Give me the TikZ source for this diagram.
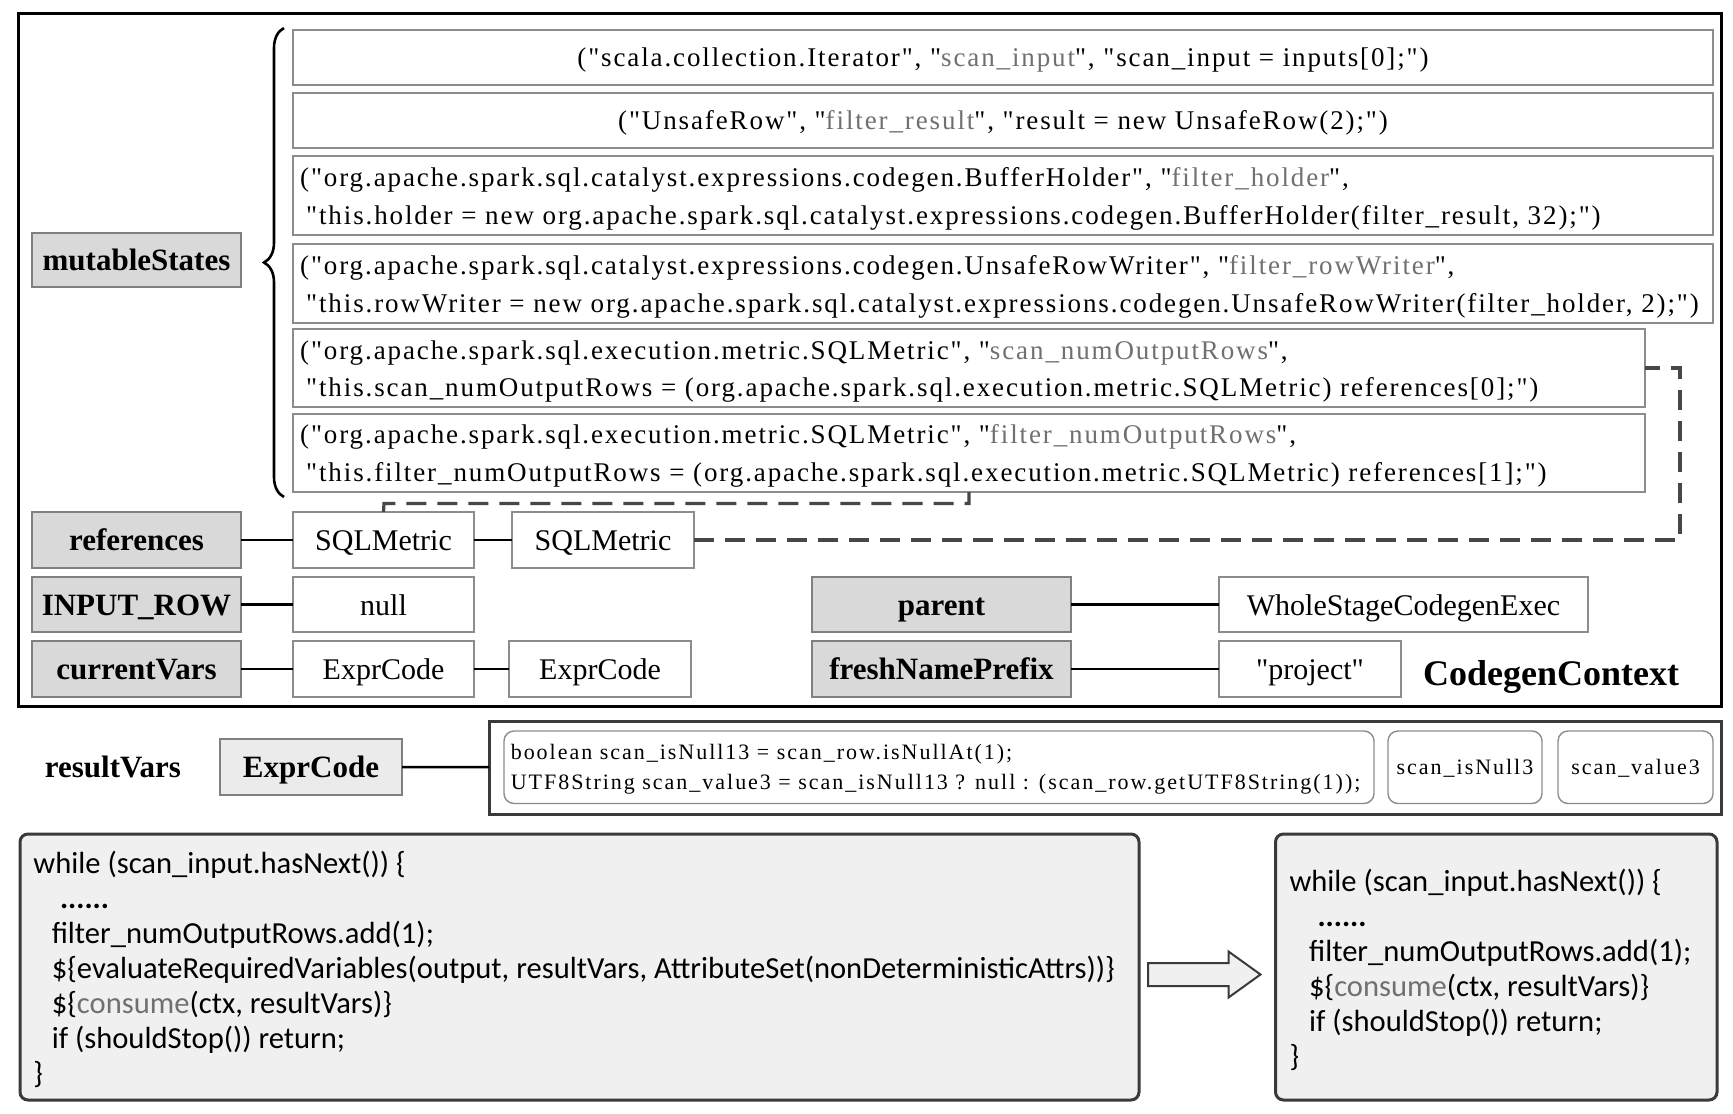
\documentclass[tikz,border=0pt]{standalone}
\usepackage{fontspec}
\setmainfont{Liberation Serif}
\newfontfamily\lblfont{Liberation Serif}
\newfontfamily\rowfont[LetterSpace=7]{Liberation Serif}
\newfontfamily\smallrowfont[LetterSpace=9]{Liberation Serif}
\newfontfamily\codefont{Carlito}
\usetikzlibrary{decorations.pathreplacing,calc}
\definecolor{hdrfill}{HTML}{D9D9D9}
\definecolor{hdrline}{HTML}{808080}
\definecolor{rowgray}{HTML}{8C8C8C}
\definecolor{txtgray}{HTML}{707070}
\definecolor{dashgray}{HTML}{474747}
\definecolor{resline}{HTML}{3A3A3A}
\definecolor{codefill}{HTML}{F0F0F0}
\definecolor{exfill}{HTML}{EBEBEB}
\newcommand\gtxt[1]{\textcolor{txtgray}{#1}}
\newcommand\rowsz{\rowfont\fontsize{13.5pt}{18.75pt}\selectfont}
\newcommand\smsz{\smallrowfont\fontsize{11pt}{15pt}\selectfont}
\newcommand\codesz{\codefont\fontsize{15.3pt}{17.5pt}\selectfont}
\newcommand\mybox[7]{\node[#2, anchor=north west, minimum width={(#5-(#3))*0.5pt}, minimum height={(#6-(#4))*0.5pt}] (#1) at (#3,#4) {#7};}
\tikzset{
  base/.style={inner sep=0pt, outer sep=0pt},
  oneline/.style={text height=13pt, text depth=2.4pt},
  rowbox/.style={base, draw=rowgray, line width=1pt, fill=white},
  hdr/.style={base, oneline, draw=hdrline, line width=1pt, fill=hdrfill, font=\lblfont\fontsize{15.5pt}{18pt}\selectfont\bfseries},
  valbox/.style={base, oneline, draw=rowgray, line width=1pt, fill=white, font=\lblfont\fontsize{15pt}{18pt}\selectfont},
  rowtxt/.style={inner sep=0pt, font=\rowsz, align=left},
  conn/.style={line width=1.3pt, draw=black},
  dashconn/.style={line width=1.6pt, draw=dashgray, dash pattern=on 10pt off 5.5pt},
  resbox/.style={base, draw=resline, line width=1.5pt},
  smallbox/.style={base, text height=9.5pt, text depth=2.5pt, draw=rowgray, line width=0.7pt, rounded corners=5pt, font=\smsz},
  codebox/.style={base, draw=resline, line width=1.5pt, fill=codefill, rounded corners=4pt},
  codetxt/.style={inner sep=0pt, font=\codesz, align=left},
  blockarrow/.style={draw=resline, line width=1pt, fill=codefill},
  bracest/.style={line width=1.3pt, draw=black, decorate, decoration={brace, amplitude=10pt}},
}
\begin{document}
\begin{tikzpicture}[x=0.5pt, y=-0.5pt]
\fill[white] (0,0) rectangle (1733,1113);
\useasboundingbox (0,0) rectangle (1733,1113);

% outer CodegenContext frame
\mybox{outer}{base, draw=black, line width=1.5pt}{18}{13.5}{1721}{706}{}

% mutableStates rows
\mybox{r1}{rowbox, font=\rowsz, text height=11pt, text depth=2.3pt}{293}{30}{1713}{85.5}{("scala.collection.Iterator", "\gtxt{scan\_input}", "scan\_input = inputs[0];")}
\mybox{r2}{rowbox, font=\rowsz, text height=11pt, text depth=2.3pt}{293}{93}{1713}{148}{("UnsafeRow", "\gtxt{filter\_result}", "result = new UnsafeRow(2);")}
\mybox{r3}{rowbox}{293}{156}{1713}{235}{}
\mybox{r4}{rowbox}{293}{244}{1713}{323}{}
\mybox{r5}{rowbox}{293}{329}{1645}{407}{}
\mybox{r6}{rowbox}{293}{413.5}{1645}{492}{}
\node[rowtxt, anchor=west] (t3) at ([xshift=3.4pt, yshift=-1.7pt]r3.west) {("org.apache.spark.sql.catalyst.expressions.codegen.BufferHolder", "\gtxt{filter\_holder}",\\\hspace*{3pt}"this.holder = new org.apache.spark.sql.catalyst.expressions.codegen.BufferHolder(filter\_result, 32);")};
\node[rowtxt, anchor=west] (t4) at ([xshift=3.4pt, yshift=-1.7pt]r4.west) {("org.apache.spark.sql.catalyst.expressions.codegen.UnsafeRowWriter", "\gtxt{filter\_rowWriter}",\\\hspace*{3pt}"this.rowWriter = new org.apache.spark.sql.catalyst.expressions.codegen.UnsafeRowWriter(filter\_holder, 2);")};
\node[rowtxt, anchor=west] (t5) at ([xshift=3.4pt, yshift=-1.7pt]r5.west) {("org.apache.spark.sql.execution.metric.SQLMetric", "\gtxt{scan\_numOutputRows}",\\\hspace*{3pt}"this.scan\_numOutputRows = (org.apache.spark.sql.execution.metric.SQLMetric) references[0];")};
\node[rowtxt, anchor=west] (t6) at ([xshift=3.4pt, yshift=-1.7pt]r6.west) {("org.apache.spark.sql.execution.metric.SQLMetric", "\gtxt{filter\_numOutputRows}",\\\hspace*{3pt}"this.filter\_numOutputRows = (org.apache.spark.sql.execution.metric.SQLMetric) references[1];")};

% brace
\draw[bracest] (284,497) -- (284,28);

% header boxes
\mybox{mut}{hdr}{32}{233}{241}{287}{mutableStates}
\mybox{refs}{hdr}{32}{512}{241}{568}{references}
\mybox{inrow}{hdr}{32}{577}{241}{632}{INPUT\_ROW}
\mybox{curv}{hdr}{32}{641}{241}{697}{currentVars}
\mybox{parent}{hdr}{812}{577}{1071}{632}{parent}
\mybox{fresh}{hdr}{812}{641}{1071}{697}{freshNamePrefix}

% value boxes
\mybox{sql1}{valbox}{293}{512}{474}{568}{SQLMetric}
\mybox{sql2}{valbox}{512}{512}{694}{568}{SQLMetric}
\mybox{null}{valbox}{293}{577}{474}{632}{null}
\mybox{ec1}{valbox}{293}{641}{474}{697}{ExprCode}
\mybox{ec2}{valbox}{509}{641}{691}{697}{ExprCode}
\mybox{whole}{valbox}{1219}{577}{1588}{632}{WholeStageCodegenExec}
\mybox{proj}{valbox}{1219}{641}{1401}{697}{"project"}

\node[font=\lblfont\fontsize{18pt}{21pt}\selectfont\bfseries] (ctxlabel) at (1551,676.5) {CodegenContext};

% connectors
\draw[conn] (refs) -- (sql1);
\draw[conn] (sql1) -- (sql2);
\draw[conn] (inrow) -- (null);
\draw[conn] (curv) -- (ec1);
\draw[conn] (ec1) -- (ec2);
\draw[conn] (parent) -- (whole);
\draw[conn] (fresh) -- (proj);

% dashed reference links
\coordinate (d1) at (384,503.5);
\draw[dashconn] (sql1.north) -- (d1) -| (r6.south);
\coordinate (d2) at (1680,368);
\draw[dashconn] (sql2.east) -| (d2) -- (r5.east);

% resultVars
\node[font=\lblfont\fontsize{15.5pt}{18pt}\selectfont\bfseries, inner sep=0pt, text height=13pt, text depth=3.6pt] (rvlabel) at (113,768) {resultVars};
\mybox{exprR}{hdr, fill=exfill}{220}{739}{402}{795}{ExprCode}
\mybox{res}{resbox}{489}{721}{1721}{814}{}
\mybox{rcode}{smallbox}{504}{731}{1374}{803.5}{}
\node[inner sep=0pt, font=\smsz, align=left, anchor=west] (rcodetxt) at ([xshift=3.2pt, yshift=-0.8pt]rcode.west) {boolean scan\_isNull13 = scan\_row.isNullAt(1);\\UTF8String scan\_value3 = scan\_isNull13 ? null : (scan\_row.getUTF8String(1));};
\mybox{isnull}{smallbox}{1388}{731}{1542}{803.5}{scan\_isNull3}
\mybox{value}{smallbox}{1558}{731}{1713}{803.5}{scan\_value3}
\draw[conn] (exprR) -- (res);

% code boxes
\mybox{lcode}{codebox}{20}{834}{1139}{1100}{}
\mybox{rcb}{codebox}{1275.5}{834}{1717}{1100}{}
\node[codetxt, anchor=west] (lct) at ([xshift=6.5pt, yshift=-1.2pt]lcode.west) {while (scan\_input.hasNext()) \{\\
\hspace*{13.3pt}\textbf{......}\\
\hspace*{9.2pt}filter\_numOutputRows.add(1);\\
\hspace*{9.2pt}\$\{evaluateRequiredVariables(output, resultVars, AttributeSet(nonDeterministicAttrs))\}\\
\hspace*{9.2pt}\$\{\gtxt{consume}(ctx, resultVars)\}\\
\hspace*{9.2pt}if (shouldStop()) return;\\
\}};
\node[codetxt, anchor=west] (rct) at ([xshift=6.8pt, yshift=-1.2pt]rcb.west) {while (scan\_input.hasNext()) \{\\
\hspace*{14pt}\textbf{......}\\
\hspace*{9.8pt}filter\_numOutputRows.add(1);\\
\hspace*{9.8pt}\$\{\gtxt{consume}(ctx, resultVars)\}\\
\hspace*{9.8pt}if (shouldStop()) return;\\
\}};

% transformation arrow
\draw[blockarrow] (1148,963) -- (1228.5,963) -- (1228.5,951.5) -- (1260.5,974.5) -- (1228.5,997.5) -- (1228.5,986) -- (1148,986) -- cycle;
\end{tikzpicture}
\end{document}
